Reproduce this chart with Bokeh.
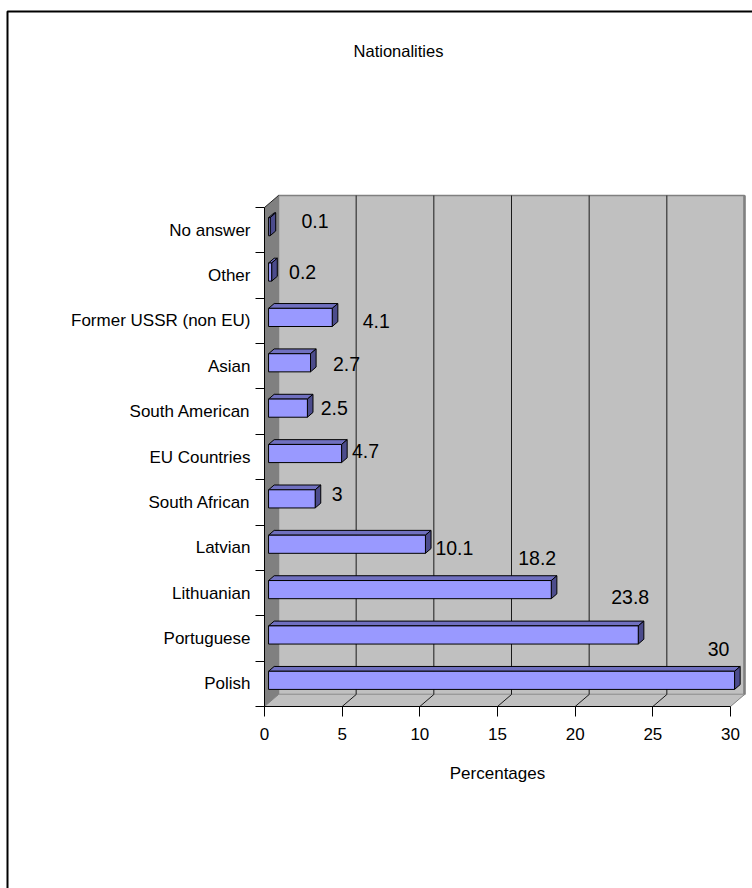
from bokeh.plotting import figure
from bokeh.models import Range1d, FixedTicker, Label, ColumnDataSource
from bokeh.core.properties import value
from bokeh.embed import file_html
from bokeh.resources import INLINE

# ---- data -------------------------------------------------------------
categories = ["Polish", "Portuguese", "Lithuanian", "Latvian", "South African",
              "EU Countries", "South American", "Asian", "Former USSR (non EU)",
              "Other", "No answer"]
percentages = [30, 23.8, 18.2, 10.1, 3, 4.7, 2.5, 2.7, 4.1, 0.2, 0.1]
x_ticks = [0, 5, 10, 15, 20, 25, 30]

# pixel nudges for the value labels (same order as categories)
label_dx = [-12, -4, -10, 33, 26, 28, 31, 40, 48, 35, 49]
label_dy = [-35, -41, -35, 0, -8, -6, -4, -2, 0, -4, -9]

# ---- geometry ---------------------------------------------------------
W, H = 752, 888
AX_X = 264                # pixel column of the category axis
AX_Y = 706                # pixel row of the value axis
SX = 466 / 30             # pixels per percent
SY = 499 / 11             # pixels per category row
DX = 14 / SX              # depth of the 3D box, in data units
DY = 12 / SY
XMAX = x_ticks[-1]
N = len(categories)
YLO, YHI = -0.5, N - 0.5


def px_x(px):
    return (px - AX_X) / SX


def px_y(py):
    return YLO + (AX_Y - py) / SY


FONT = "Liberation Sans"
FS = "17px"

# the frame fills the whole canvas; axes sit at fixed data locations
p = figure(width=W, height=H, output_backend="svg", toolbar_location=None,
           x_range=Range1d(px_x(0), px_x(W)),
           y_range=Range1d(px_y(H), px_y(0)),
           min_border_left=0, min_border_right=0,
           min_border_top=0, min_border_bottom=0,
           background_fill_color="white", border_fill_color="white",
           outline_line_color=None)
p.grid.visible = False

# chart border (left and top edges visible)
p.line([px_x(7), px_x(7), px_x(W + 20)], [px_y(H + 20), px_y(11), px_y(11)],
       line_color="black", line_width=2)

# ---- walls and floor --------------------------------------------------
p.quad(left=[DX], right=[XMAX + DX], bottom=[YLO + DY], top=[YHI + DY],
       fill_color="#C0C0C0", line_color="#808080", line_width=1.5)
p.line([XMAX + DX, XMAX + DX], [YLO + DY, YHI + DY], line_color="#808080", line_width=2.5)
p.patch([0, XMAX, XMAX + DX, DX], [YLO, YLO, YLO + DY, YLO + DY],
        fill_color="#C0C0C0", line_color=None)
p.patch([0, DX, DX, 0], [YLO, YLO + DY, YHI + DY, YHI],
        fill_color="#808080", line_color=None)
p.line([0, DX], [YHI, YHI + DY], line_color="#202020", line_width=1)
p.line([DX, XMAX + DX], [YLO + DY, YLO + DY], line_color="#9A9A9A", line_width=1)

# gridlines on the back wall and across the floor
inner = x_ticks[1:-1]
p.multi_line(xs=[[t + DX, t + DX] for t in inner],
             ys=[[YLO + DY, YHI + DY] for _ in inner],
             line_color="#1A1A1A", line_width=1)
p.multi_line(xs=[[t, t + DX] for t in inner],
             ys=[[YLO, YLO + DY] for _ in inner],
             line_color="#1A1A1A", line_width=1)
p.multi_line(xs=[[0, DX], [XMAX, XMAX + DX]],
             ys=[[YLO, YLO + DY], [YLO, YLO + DY]],
             line_color="#808080", line_width=1)

# ---- 3D bars ----------------------------------------------------------
HALF = 0.2                 # half bar height (gap width 150%)
B0X, B0Y = 0.29 * DX, 0.29 * DY
BDX, BDY = 0.40 * DX, 0.40 * DY

front_x, front_y, top_x, top_y, side_x, side_y = [], [], [], [], [], []
for i, v in enumerate(percentages):
    x0, x1 = B0X, v + B0X
    y0, y1 = i - HALF + B0Y, i + HALF + B0Y
    front_x.append([x0, x1, x1, x0])
    front_y.append([y0, y0, y1, y1])
    top_x.append([x0, x1, x1 + BDX, x0 + BDX])
    top_y.append([y1, y1, y1 + BDY, y1 + BDY])
    side_x.append([x1, x1 + BDX, x1 + BDX, x1])
    side_y.append([y0, y0 + BDY, y1 + BDY, y1])

p.patches(top_x, top_y, fill_color="#7070C0", line_color="black", line_width=1)
p.patches(side_x, side_y, fill_color="#4C4C8C", line_color="black", line_width=1)
p.patches(front_x, front_y, fill_color="#9999FF", line_color="black", line_width=1)

# ---- value labels -----------------------------------------------------
src = ColumnDataSource(dict(
    x=percentages, y=list(range(N)),
    text=[f"{v:g}" for v in percentages],
    dx=label_dx, dy=label_dy))
p.text(x="x", y="y", text="text", x_offset="dx", y_offset="dy", source=src,
       text_font=value(FONT), text_font_size="19.5px", text_color="black",
       text_align="center", text_baseline="middle")

# ---- axes -------------------------------------------------------------
ya = p.yaxis[0]
ya.fixed_location = 0
ya.ticker = FixedTicker(ticks=list(range(N)),
                        minor_ticks=[k - 0.5 for k in range(N + 1)])
ya.major_label_overrides = {i: c for i, c in enumerate(categories)}
ya.bounds = (YLO, YHI)
ya.major_tick_out = 0
ya.major_tick_in = 0
ya.minor_tick_out = 9
ya.minor_tick_in = 0
ya.minor_tick_line_color = "black"
ya.major_label_standoff = 5
ya.axis_line_color = "black"

xa = p.xaxis[0]
xa.fixed_location = YLO
xa.ticker = FixedTicker(ticks=x_ticks, minor_ticks=[])
xa.bounds = (0, XMAX)
xa.major_tick_out = 10
xa.major_tick_in = 0
xa.major_label_standoff = 11
xa.axis_line_color = "black"

for ax in (xa, ya):
    ax.major_label_text_font = FONT
    ax.major_label_text_font_size = FS
    ax.major_label_text_color = "black"
    ax.major_tick_line_color = "black"

# ---- titles -----------------------------------------------------------
p.add_layout(Label(x=px_x(398), y=px_y(50),
                   text="Nationalities", text_font=FONT, text_font_size="16.5px",
                   text_align="center", text_baseline="middle", text_color="black"))
p.add_layout(Label(x=XMAX / 2, y=px_y(773),
                   text="Percentages", text_font=FONT, text_font_size=FS,
                   text_align="center", text_baseline="middle", text_color="black"))

open("out.html", "w").write(file_html(p, INLINE))
